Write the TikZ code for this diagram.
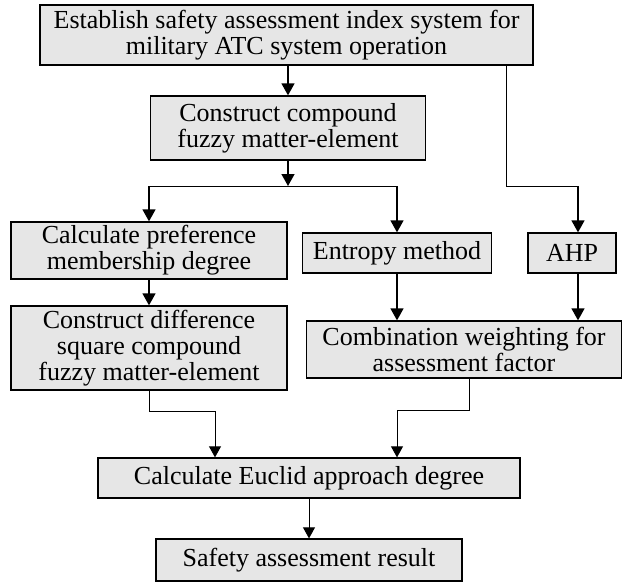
\documentclass[tikz,border=0pt]{standalone}
\usepackage{fontspec}
\setmainfont{Liberation Serif}
\usetikzlibrary{arrows.meta,calc}
\definecolor{boxfill}{HTML}{E6E6E6}
\begin{document}
\begin{tikzpicture}[x=1pt,y=1pt,
  box/.style={draw=black, fill=boxfill, line width=1.3pt, inner sep=0pt, align=center,
    font=\fontsize{26}{26}\selectfont},
  arr/.style={line width=1.4pt, -{Triangle[length=12pt,width=13pt]}},
  tarr/.style={line width=0.8pt, -{Triangle[length=11pt,width=12pt]}},
  tline/.style={line width=0.8pt}]
\useasboundingbox (0,0) rectangle (623,-583);
\node[box, minimum width=493pt, minimum height=60pt] (b1) at (286.5,-35) {Establish safety assessment index system for\\military ATC system operation};
\node[box, minimum width=275pt, minimum height=64pt] (b2) at (288,-128) {Construct compound\\fuzzy matter-element};
\node[box, minimum width=276pt, minimum height=57pt] (cp) at (149,-250.5) {Calculate preference\\membership degree};
\node[box, minimum width=189pt, minimum height=40pt] (en) at (397,-253) {Entropy method};
\node[box, minimum width=88pt, minimum height=40pt] (ahp) at (572,-253) {AHP};
\node[box, minimum width=276pt, minimum height=84pt] (cd) at (149,-348) {Construct difference\\square compound\\fuzzy matter-element};
\node[box, minimum width=315pt, minimum height=57pt] (cw) at (464,-349.5) {Combination weighting for\\assessment factor};
\node[box, minimum width=422pt, minimum height=40pt] (eu) at (309,-478) {Calculate Euclid approach degree};
\node[box, minimum width=306pt, minimum height=42pt] (sr) at (309,-560) {Safety assessment result};
\coordinate (jn) at (288,-186);
\coordinate (rx) at (506,-186);
\coordinate (ax) at (578,-186);
\coordinate (l1) at (215,-411);
\coordinate (cx) at (469,-410);
\coordinate (l2) at (397,-410);
% top flow
\draw[arr] (b1.south -| b2.north) -- (b2.north);
\draw[arr] (b2.south) -- (jn);
\draw[tline] (cp.north |- jn) -- (en.north |- jn);
\draw[arr] (cp.north |- jn) -- (cp.north);
\draw[arr] (en.north |- jn) -- (en.north);
% right branch to AHP
\draw[tline] (b1.south -| rx) -- (rx) -- (ax);
\draw[arr] (ax) -- (ahp.north -| ax);
% left column
\draw[arr] (cp.south) -- (cd.north);
% weights
\draw[arr] (en.south) -- (en.south |- cw.north);
\draw[arr] (ahp.south -| ax) -- (cw.north -| ax);
% bottom merges
\draw[tarr] (cd.south) |- (l1) -- (l1 |- eu.north);
\draw[tarr] (cx |- cw.south) -- (cx) -- (l2) -- (l2 |- eu.north);
\draw[tarr] (eu.south) -- (eu.south |- sr.north);
\end{tikzpicture}
\end{document}
